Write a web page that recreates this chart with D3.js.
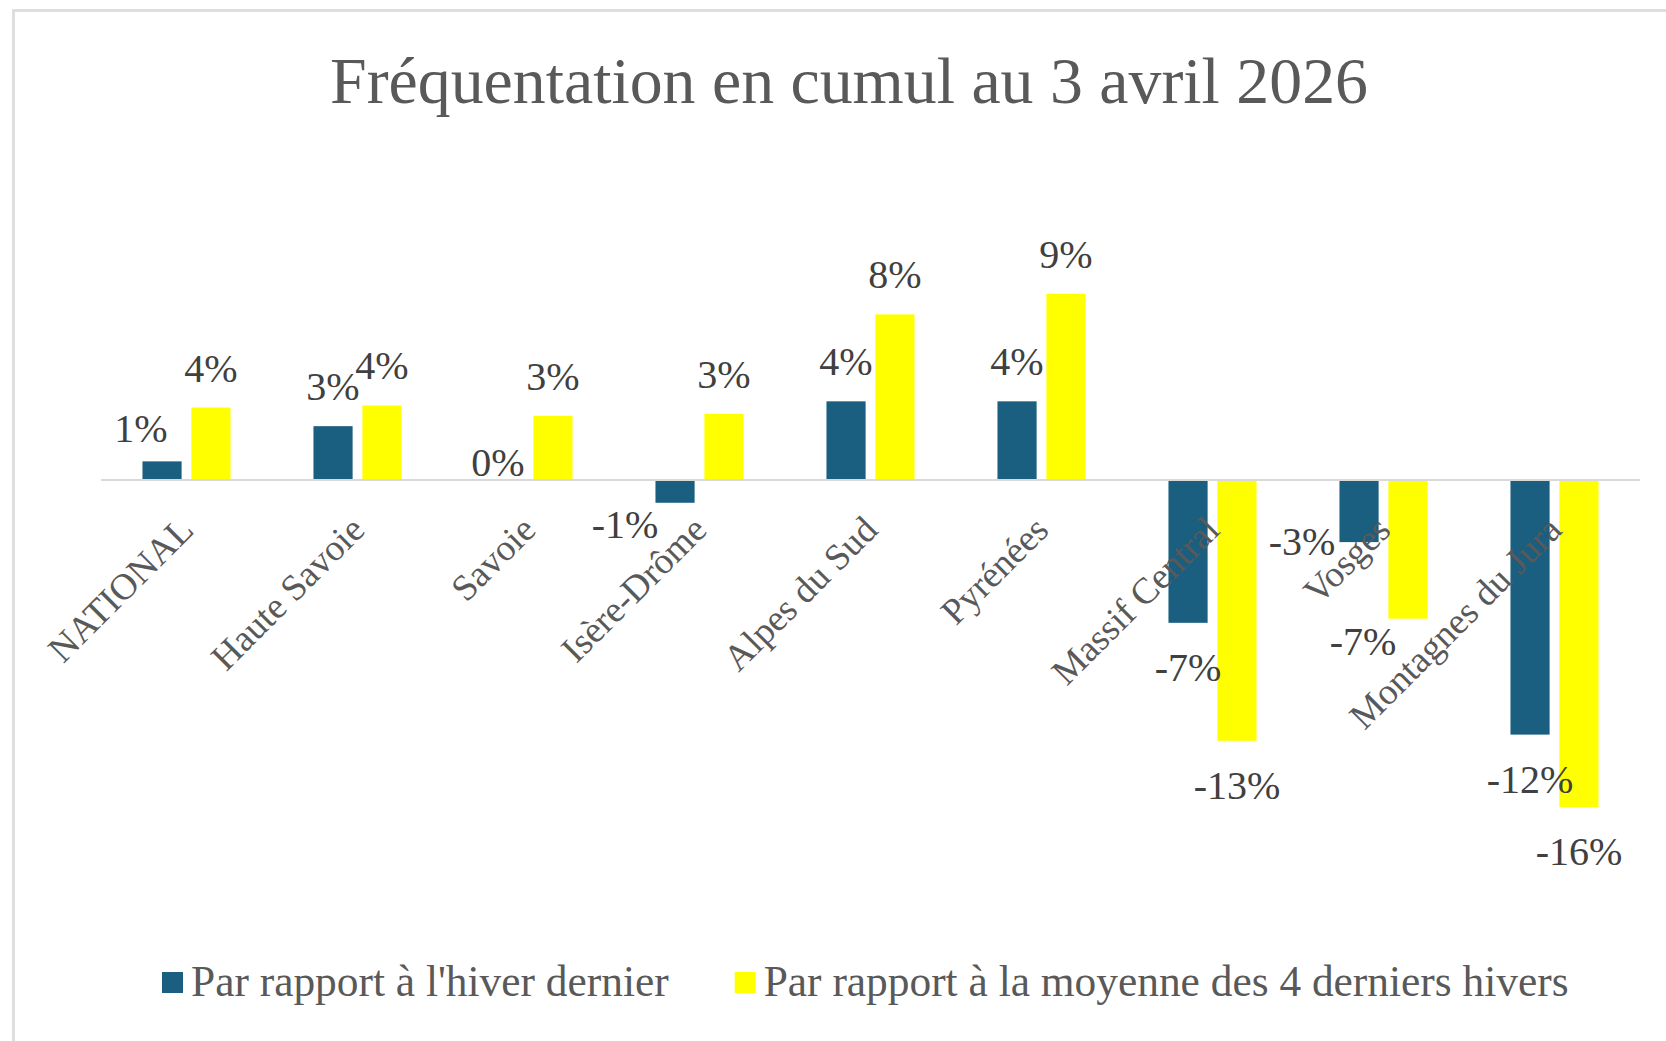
<!DOCTYPE html>
<html>
<head>
<meta charset="utf-8">
<script src="https://cdn.jsdelivr.net/npm/d3@7"></script>
<style>
  body { margin: 0; background: #fff; }
  text { font-family: "Liberation Serif", "DejaVu Serif", serif; }
</style>
</head>
<body>
<svg id="chart" width="1666" height="1041"></svg>
<script>
// values, in percent
const categories = ["NATIONAL", "Haute Savoie", "Savoie", "Isère-Drôme", "Alpes du Sud",
  "Pyrénées", "Massif Central", "Vosges", "Montagnes du Jura"];
const seriesNames = ["Par rapport à l'hiver dernier", "Par rapport à la moyenne des 4 derniers hivers"];
const lastWinter = [0.9, 2.6, 0, -1.1, 3.8, 3.8, -6.9, -3.0, -12.3];
const avg4Winters = [3.5, 3.6, 3.1, 3.2, 8.0, 9.0, -12.6, -6.7, -15.8];
const colors = ["#1a5e80", "#ffff00"];
const title = "Fréquentation en cumul au 3 avril 2026";

const width = 1666;
const height = 1041;
const svg = d3.select("#chart");

// chart frame, runs off the right and bottom of the picture
svg.append("rect")
  .attr("x", 13.5).attr("y", 10.5)
  .attr("width", 1720).attr("height", 1100)
  .attr("fill", "#fff")
  .attr("stroke", "#dedede")
  .attr("stroke-width", 3);

svg.append("text")
  .attr("x", 849).attr("y", 103)
  .attr("text-anchor", "middle")
  .attr("font-size", 65.8)
  .attr("fill", "#595959")
  .text(title);

const x0 = d3.scaleBand()
  .domain(categories)
  .range([101, 1640])
  .paddingInner(0.485)
  .paddingOuter(0.2425);

const x1 = d3.scaleBand()
  .domain([0, 1])
  .range([0, x0.bandwidth()])
  .paddingInner(0.2);

const y = d3.scaleLinear()
  .domain([-18, 10])
  .range([480 + 18 * 20.7, 480 - 10 * 20.7]);

const rows = [];
categories.forEach((c, i) => {
  rows.push({ cat: c, s: 0, v: lastWinter[i] });
  rows.push({ cat: c, s: 1, v: avg4Winters[i] });
});

svg.append("g").selectAll("rect")
  .data(rows)
  .join("rect")
  .attr("x", d => x0(d.cat) + x1(d.s))
  .attr("y", d => y(Math.max(0, d.v)))
  .attr("width", x1.bandwidth())
  .attr("height", d => Math.abs(y(d.v) - y(0)))
  .attr("fill", d => colors[d.s]);

// zero line
svg.append("line")
  .attr("x1", x0.range()[0]).attr("x2", x0.range()[1])
  .attr("y1", y(0)).attr("y2", y(0))
  .attr("stroke", "#d9d9d9")
  .attr("stroke-width", 2);

// a few labels were moved by hand in the original to clear the category names
const nudge = {
  "NATIONAL|0": [-21, 7],
  "Savoie|0": [-6, 22],
  "Isère-Drôme|0": [-50, -23],
  "Vosges|0": [-57, -45],
  "Vosges|1": [-45, -22]
};

svg.append("g").selectAll("text")
  .data(rows)
  .join("text")
  .attr("x", d => x0(d.cat) + x1(d.s) + x1.bandwidth() / 2 + (nudge[d.cat + "|" + d.s] || [0, 0])[0])
  .attr("y", d => (d.v >= 0 ? y(d.v) - 26 : y(d.v) + 58) + (nudge[d.cat + "|" + d.s] || [0, 0])[1])
  .attr("text-anchor", "middle")
  .attr("font-size", 40)
  .attr("fill", "#404040")
  .text(d => Math.round(d.v) + "%");

// category names, rotated
svg.append("g").selectAll("text")
  .data(categories)
  .join("text")
  .attr("transform", d => `translate(${x0(d) + x0.bandwidth() / 2 + 9}, 532) rotate(-45)`)
  .attr("text-anchor", "end")
  .attr("font-size", 37)
  .attr("fill", "#595959")
  .text(d => d);

// legend
const legend = svg.append("g");
let lx = 162;
seriesNames.forEach((name, i) => {
  legend.append("rect")
    .attr("x", lx).attr("y", 972)
    .attr("width", 21).attr("height", 21)
    .attr("fill", colors[i]);
  const t = legend.append("text")
    .attr("x", lx + 29).attr("y", 996)
    .attr("font-size", 43.4)
    .attr("fill", "#595959")
    .text(name);
  lx += 29 + t.node().getComputedTextLength() + 66;
});
</script>
</body>
</html>
